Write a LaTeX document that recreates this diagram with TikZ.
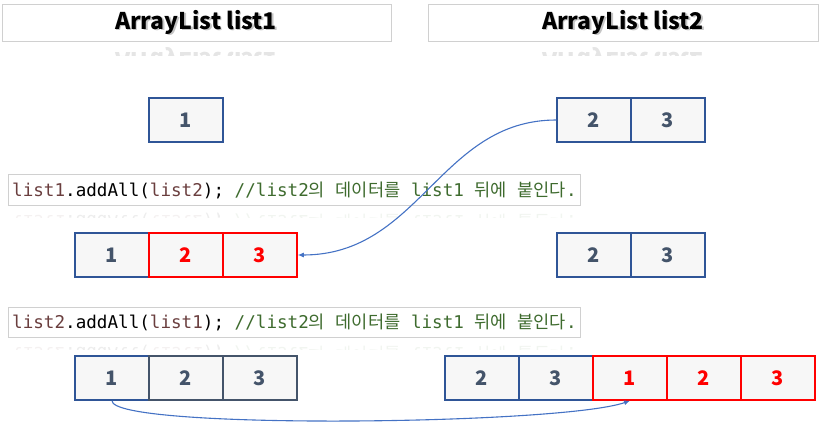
\documentclass[tikz,border=0pt]{standalone}
\usepackage{fontspec}
\newfontfamily\krfont{Noto Sans CJK KR}
\newfontfamily\codefont{DejaVu Sans Mono}
\usetikzlibrary{arrows.meta}
\definecolor{cellblue}{HTML}{2F5597}
\definecolor{cellslate}{HTML}{44546A}
\definecolor{cellred}{HTML}{FF0000}
\definecolor{cellfill}{HTML}{F7F7F7}
\definecolor{boxgray}{HTML}{D0D0D0}
\definecolor{arrowblue}{HTML}{4472C4}
\definecolor{codevar}{HTML}{6A3E3E}
\definecolor{codecmt}{HTML}{3E6B2E}
\newcommand{\kr}[1]{{\krfont #1}}
\newcommand{\codeone}{{\codefont\color{codevar}list1}{\codefont.addAll(}{\codefont\color{codevar}list2}{\codefont); }{\color{codecmt}\codefont//list2\kr{의} \kr{데이터를} list1 \kr{뒤에} \kr{붙인다}.}}
\newcommand{\codetwo}{{\codefont\color{codevar}list2}{\codefont.addAll(}{\codefont\color{codevar}list1}{\codefont); }{\color{codecmt}\codefont//list2\kr{의} \kr{데이터를} list1 \kr{뒤에} \kr{붙인다}.}}
\begin{document}
\begin{tikzpicture}[x=1pt,y=-1pt,
                    cell/.style={draw=cellblue, fill=cellfill, line width=1.5pt,
                                 minimum width=74pt, minimum height=44pt,
                                 inner sep=0, text=cellslate,
                                 font=\krfont\bfseries\fontsize{20}{20}\selectfont},
                    redcell/.style={cell, draw=cellred, text=cellred},
                    slatecell/.style={cell, draw=cellslate},
                    titlebox/.style={draw=boxgray, fill=white, line width=0.8pt},
                    titletext/.style={font=\krfont\bfseries\fontsize{23}{23}\selectfont, inner sep=0},
                    codetext/.style={font=\fontsize{17.6}{17.6}\selectfont, inner sep=0, anchor=west},
                    flow/.style={draw=arrowblue, line width=1.1pt, -{Latex[length=6pt,width=5pt]}}]

\useasboundingbox (0,0) rectangle (820,428);

% titles
\draw[titlebox] (2,4) rectangle (391,41);
\draw[titlebox] (428,4) rectangle (818,41);
\node[titletext, text=black!45, opacity=0.5] at (197.5,23.5) {ArrayList list1};
\node[titletext] (t1) at (196,22) {ArrayList list1};
\node[titletext, text=black!45, opacity=0.5] at (624.5,23.5) {ArrayList list2};
\node[titletext] (t2) at (623,22) {ArrayList list2};
\begin{scope}
  \clip (2,42) rectangle (818,56);
  \node[titletext, transform shape, yscale=-1, opacity=0.1] at (196,60) {ArrayList list1};
  \node[titletext, transform shape, yscale=-1, opacity=0.1] at (623,60) {ArrayList list2};
\end{scope}

% first state
\node[cell] (a1) at (186,120) {1};
\node[cell] (b2) at (594,120) {2};
\node[cell] (b3) at (668,120) {3};

% list1.addAll(list2)
\draw[draw=boxgray, fill=white, line width=0.8pt] (8,174) rectangle (580,205);
\node[codetext] (c1) at (12,190) {\codeone};
\begin{scope}
  \clip (8,206) rectangle (580,217);
  \node[codetext, transform shape, yscale=-1, opacity=0.07] at (12,222) {\codeone};
\end{scope}

\node[cell] (m1) at (112,255) {1};
\node[redcell] (m2) at (186,255) {2};
\node[redcell] (m3) at (260,255) {3};
\node[cell] (n2) at (594,255) {2};
\node[cell] (n3) at (668,255) {3};

% list2.addAll(list1)
\draw[draw=boxgray, fill=white, line width=0.8pt] (8,307) rectangle (580,337);
\node[codetext] (c2) at (12,322) {\codetwo};
\begin{scope}
  \clip (8,338) rectangle (580,349);
  \node[codetext, transform shape, yscale=-1, opacity=0.07] at (12,354) {\codetwo};
\end{scope}

\node[cell] (p1) at (112,378) {1};
\node[slatecell] (p2) at (186,378) {2};
\node[slatecell] (p3) at (260,378) {3};
\node[cell] (q2) at (482,378) {2};
\node[cell] (q3) at (556,378) {3};
\node[redcell] (q4) at (630,378) {1};
\node[redcell] (q5) at (704,378) {2};
\node[redcell] (q6) at (778,378) {3};

% arrows
\draw[flow] (b2.west) .. controls (440,120) and (420,255) .. (m3.east);
\draw[flow] (p1.south) .. controls (112,430) and (560,425) .. (q4.south);

\end{tikzpicture}
\end{document}
